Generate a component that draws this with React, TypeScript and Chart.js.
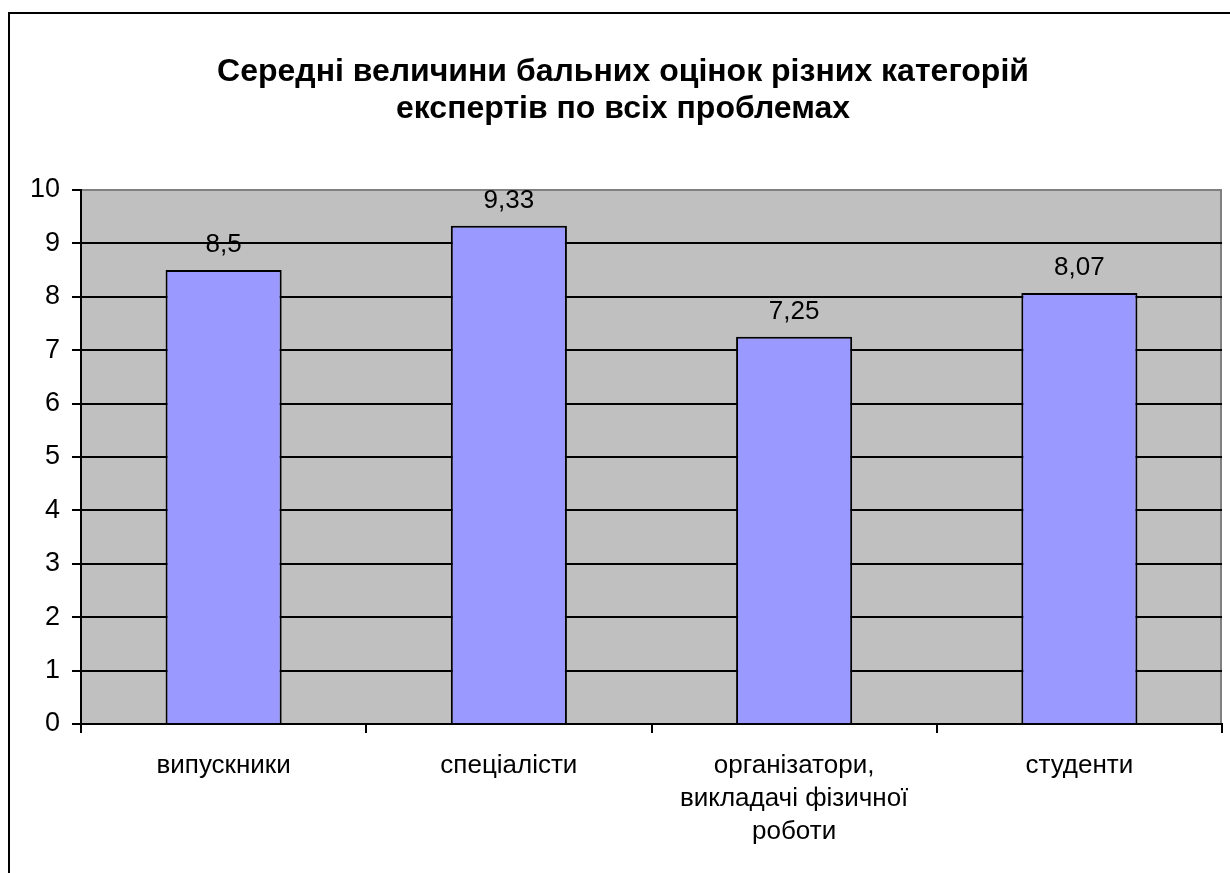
import React, { useEffect, useRef } from "react";
import { Chart, registerables } from "chart.js";

Chart.register(...registerables);

const titleLines = [
  "Середні величини бальних оцінок різних категорій",
  "експертів по всіх проблемах",
];
const categories: (string | string[])[] = [
  "випускники",
  "спеціалісти",
  ["організатори,", "викладачі фізичної", "роботи"],
  "студенти",
];
const values = [8.5, 9.33, 7.25, 8.07];
const yTicks = [0, 1, 2, 3, 4, 5, 6, 7, 8, 9, 10];

const FONT = "Arial, 'Liberation Sans', sans-serif";

export default function App() {
  const ref = useRef<HTMLCanvasElement | null>(null);

  useEffect(() => {
    if (!ref.current) return;

    const framePlugin = {
      id: "frame",
      beforeDraw(chart: any) {
        const { ctx, width, height, chartArea } = chart;
        ctx.save();
        ctx.fillStyle = "#ffffff";
        ctx.fillRect(0, 0, width, height);
        ctx.fillStyle = "#000000";
        ctx.fillRect(8, 12, 2, height - 12);
        ctx.fillRect(8, 12, width - 8, 2);
        ctx.fillStyle = "#C0C0C0";
        ctx.fillRect(
          chartArea.left,
          chartArea.top,
          chartArea.right - chartArea.left,
          chartArea.bottom - chartArea.top
        );
        ctx.strokeStyle = "#808080";
        ctx.lineWidth = 2;
        ctx.beginPath();
        ctx.moveTo(chartArea.left, chartArea.top);
        ctx.lineTo(chartArea.right - 1, chartArea.top);
        ctx.lineTo(chartArea.right - 1, chartArea.bottom);
        ctx.stroke();
        ctx.restore();
      },
      afterDraw(chart: any) {
        const { ctx } = chart;
        ctx.save();
        ctx.fillStyle = "#000000";
        ctx.textAlign = "center";
        ctx.textBaseline = "alphabetic";
        ctx.font = `bold 32px ${FONT}`;
        ctx.fillText(titleLines[0], 623, 81);
        ctx.fillText(titleLines[1], 623, 118);

        const meta = chart.getDatasetMeta(0);
        ctx.font = `26px ${FONT}`;
        meta.data.forEach((bar: any, i: number) => {
          const label = String(values[i]).replace(".", ",");
          ctx.fillText(label, bar.x, bar.y - 18);
        });
        ctx.restore();
      },
    };

    const chart = new Chart(ref.current, {
      type: "bar",
      data: {
        labels: categories,
        datasets: [
          {
            data: values,
            backgroundColor: "#9999FF",
            borderColor: "#000000",
            borderWidth: 2,
            barPercentage: 0.407,
            categoryPercentage: 1,
          },
        ],
      },
      options: {
        responsive: false,
        animation: false,
        layout: { padding: { top: 190, right: 8, left: 0, bottom: 0 } },
        plugins: {
          legend: { display: false },
          title: { display: false },
          tooltip: { enabled: false },
        },
        scales: {
          x: {
            offset: true,
            afterFit(scale: any) {
              scale.height = 149;
            },
            grid: {
              offset: true,
              drawOnChartArea: false,
              drawTicks: true,
              tickLength: 9,
              tickColor: "#000000",
              color: "#000000",
              lineWidth: 2,
            },
            border: { display: true, color: "#000000", width: 2 },
            ticks: {
              color: "#000000",
              font: { family: FONT, size: 26, lineHeight: 1.27 },
              padding: 16,
              maxRotation: 0,
              autoSkip: false,
            },
          },
          y: {
            min: 0,
            max: 10,
            afterFit(scale: any) {
              scale.width = 81;
            },
            afterBuildTicks(scale: any) {
              scale.ticks = yTicks.map((v) => ({ value: v }));
            },
            grid: {
              color: (c: any) => (c.tick && c.tick.value === 10 ? "#808080" : "#000000"),
              tickColor: "#000000",
              tickLength: 9,
              lineWidth: 2,
            },
            border: { display: true, color: "#000000", width: 2 },
            ticks: {
              color: "#000000",
              font: { family: FONT, size: 27 },
              padding: 12,
            },
          },
        },
      },
      plugins: [framePlugin],
    });

    return () => chart.destroy();
  }, []);

  return (
    <div style={{ position: "fixed", left: 0, top: 0, width: 1230, height: 873 }}>
      <canvas ref={ref} width={1230} height={873} />
    </div>
  );
}
